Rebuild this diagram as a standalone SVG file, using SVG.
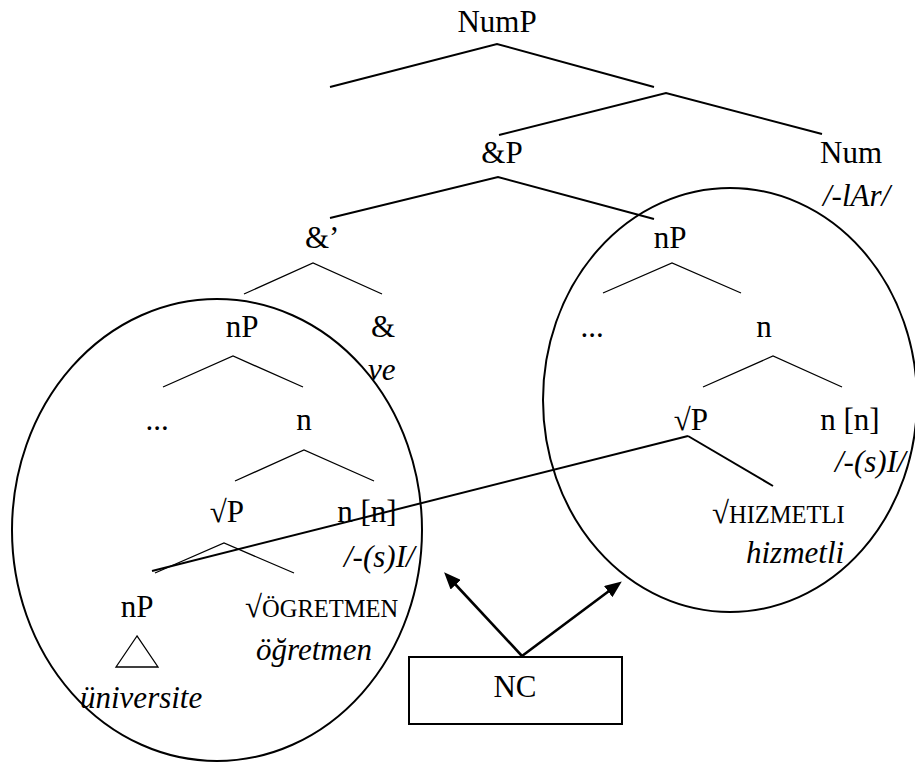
<svg xmlns="http://www.w3.org/2000/svg" width="915" height="762" viewBox="0 0 915 762" font-family="'Liberation Serif', 'DejaVu Serif', serif">
  <style>
    text { font-size: 31px; fill: #000; }
    .c { text-anchor: middle; }
    .it { font-style: italic; }
    .sc { font-size: 24.5px; }
    .thick { fill: none; stroke: #000; stroke-width: 2; stroke-linejoin: miter; }
    .thin { fill: none; stroke: #000; stroke-width: 1.3; stroke-linejoin: miter; }
    .ring { fill: none; stroke: #000; stroke-width: 2; }
    .arrow { stroke: #000; stroke-width: 2.6; fill: none; marker-end: url(#head); }
  </style>
  <defs>
    <marker id="head" markerUnits="userSpaceOnUse" markerWidth="17" markerHeight="14" refX="1" refY="7" orient="auto">
      <path d="M0,0 L17,7 L0,14 Z" fill="#000"/>
    </marker>
  </defs>
  <rect width="915" height="762" fill="#fff"/>

  <!-- domains of the two nP constituents -->
  <g id="domains">
    <ellipse class="ring" cx="217" cy="530" rx="205" ry="231"/>
    <ellipse class="ring" cx="730" cy="400" rx="187" ry="212"/>
  </g>

  <!-- tree branches -->
  <g id="connectors">
    <polyline class="thick" points="330,87 497,44 654,87"/>
    <polyline class="thick" points="499,135 666,93 822,134"/>
    <polyline class="thick" points="330,218 498,177 654,219"/>
    <polyline class="thin" points="244,294 313,263 382,294"/>
    <polyline class="thin" points="163,387 233,356 303,387"/>
    <polyline class="thin" points="235,481 304,450 374,481"/>
    <polyline class="thin" points="155,573 224,543 294,573"/>
    <polyline class="thin" points="603,293 672,263 741,293"/>
    <polyline class="thin" points="703,387 773,356 842,387"/>
    <line class="thick" x1="152" y1="571" x2="688" y2="436"/>
    <line class="thick" x1="688" y1="436" x2="773" y2="486"/>
    <polygon class="thin" points="137,636 116,667 158,667"/>
    <line class="arrow" x1="522" y1="656" x2="455" y2="584"/>
    <line class="arrow" x1="522" y1="656" x2="609" y2="591"/>
  </g>

  <g id="NumP"><text class="c" x="497" y="32">NumP</text></g>
  <g id="andP"><text class="c" x="502" y="163">&amp;P</text></g>
  <g id="Num">
    <text class="c" x="851" y="163">Num</text>
    <text class="it" x="823" y="206">/-lAr/</text>
  </g>
  <g id="andBar"><text x="305" y="248">&amp;’</text></g>
  <g id="and">
    <text class="c" x="383" y="337">&amp;</text>
    <text class="it" x="368" y="380">ve</text>
  </g>

  <!-- left conjunct -->
  <g id="nP-left"><text class="c" x="242" y="337">nP</text></g>
  <g id="dots-left"><text class="c" x="157" y="430">...</text></g>
  <g id="n-left"><text class="c" x="304" y="430">n</text></g>
  <g id="rootP-left"><text class="c" x="227" y="522">√P</text></g>
  <g id="nHead-left">
    <text class="c" x="367" y="522">n [n]</text>
    <text class="it" x="344" y="567">/-(s)I/</text>
  </g>
  <g id="nP-inner"><text class="c" x="137" y="617">nP</text></g>
  <g id="universite"><text class="it" x="80" y="708">üniversite</text></g>
  <g id="root-ogretmen">
    <text x="245" y="617">√<tspan class="sc">ÖGRETMEN</tspan></text>
    <text class="it" x="256" y="660">öğretmen</text>
  </g>

  <!-- right conjunct -->
  <g id="nP-right"><text class="c" x="670" y="248">nP</text></g>
  <g id="dots-right"><text class="c" x="592" y="337">...</text></g>
  <g id="n-right"><text class="c" x="764" y="337">n</text></g>
  <g id="rootP-right"><text class="c" x="691" y="430">√P</text></g>
  <g id="nHead-right">
    <text class="c" x="850" y="430">n [n]</text>
    <text class="it" x="835" y="472">/-(s)I/</text>
  </g>
  <g id="root-hizmetli">
    <text x="712" y="523">√<tspan class="sc">HIZMETLI</tspan></text>
    <text class="it" x="746" y="563">hizmetli</text>
  </g>

  <g id="NC">
    <rect x="409" y="657" width="213" height="67" fill="#fff" stroke="#000" stroke-width="2"/>
    <text class="c" x="515" y="697">NC</text>
  </g>
</svg>
